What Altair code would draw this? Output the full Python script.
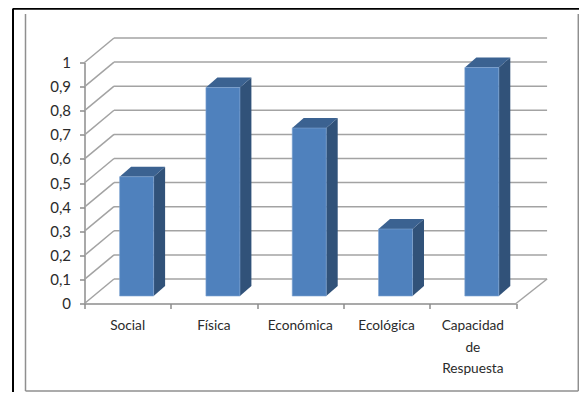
import altair as alt
import pandas as pd

categories = ["Social", "Física", "Económica", "Ecológica", "Capacidad\nde\nRespuesta"]
values = [0.495, 0.865, 0.697, 0.278, 0.948]
ticks = [0, 0.1, 0.2, 0.3, 0.4, 0.5, 0.6, 0.7, 0.8, 0.9, 1]
slots = [0, 1, 2, 3, 4, 5]

DEPTH_X, DEPTH_Y = 0.342, 0.1017
BACK_END = 5.36
BASE_X, BASE_Y = 0.104, 0.031
BAR_W = 0.394
SIDE_X, SIDE_Y = 0.133, 0.0415

GRID = "#a3a3a3"
FRONT, TOP, SIDE = "#4f81bd", "#3b6291", "#315279"
FONT = "Lato"
TEXT = "#2b2b2b"

xs = alt.Scale(domain=[0, 5], nice=False, zero=False)
ys = alt.Scale(domain=[0, 1], nice=False, zero=False)
x_axis = alt.Axis(values=slots, labels=False, title=None, grid=False, tickSize=5, tickWidth=1.5,
                  tickColor="#8c8c8c", domainColor="#8c8c8c", domainWidth=1.5)
y_axis = alt.Axis(values=ticks, format="~g", labelExpr="replace(datum.label,'.',',')", title=None,
                  grid=False, tickSize=5, tickWidth=1.5, tickColor="#8c8c8c", domainColor="#8c8c8c",
                  domainWidth=1.5, labelFont=FONT, labelFontSize=15, labelColor=TEXT, labelPadding=9)


def X(field="x"):
    return alt.X(f"{field}:Q", scale=xs, axis=x_axis)


def Y(field="y"):
    return alt.Y(f"{field}:Q", scale=ys, stack=None, axis=y_axis)


# Wall and floor lines
lines = []
for t in ticks:
    lines += [{"id": f"d{t}", "x": 0, "y": t}, {"id": f"d{t}", "x": DEPTH_X, "y": t + DEPTH_Y}]
    lines += [{"id": f"b{t}", "x": DEPTH_X, "y": t + DEPTH_Y}, {"id": f"b{t}", "x": BACK_END, "y": t + DEPTH_Y}]
lines += [{"id": "r", "x": 5, "y": 0}, {"id": "r", "x": BACK_END, "y": DEPTH_Y}]
lines_df = pd.DataFrame(lines)

axes = (
    alt.Chart(lines_df)
    .mark_line(color=GRID, strokeWidth=1.5)
    .encode(x=X(), y=Y(), detail="id:N")
)

front, side, top = [], [], []
for i, (c, v) in enumerate(zip(categories, values)):
    x0 = i + 0.5 - BAR_W / 2 + BASE_X
    x1 = x0 + BAR_W
    y0 = BASE_Y
    y1 = BASE_Y + v
    front.append({"id": c, "x": x0, "x2": x1, "y": y0, "y2": y1})
    side += [
        {"id": c, "x": x1, "y": y0, "y2": y1},
        {"id": c, "x": x1 + SIDE_X, "y": y0 + SIDE_Y, "y2": y1 + SIDE_Y},
    ]
    top += [
        {"id": c, "x": x0, "x2": x1, "y": y1},
        {"id": c, "x": x0 + SIDE_X, "x2": x1 + SIDE_X, "y": y1 + SIDE_Y},
    ]

front_l = alt.Chart(pd.DataFrame(front)).mark_rect(color=FRONT, stroke="#7fa4d2", strokeWidth=0.6).encode(
    x=X(), x2="x2:Q", y=Y(), y2="y2:Q"
)
side_l = alt.Chart(pd.DataFrame(side)).mark_area(color=SIDE).encode(
    x=X(), y=Y(), y2="y2:Q", detail="id:N"
)
top_l = alt.Chart(pd.DataFrame(top)).mark_area(color=TOP, orient="horizontal").encode(
    y=Y(), x=X(), x2="x2:Q", detail="id:N"
)

labels = pd.DataFrame({"x": [i + 0.5 for i in range(5)], "label": categories})
labels_l = alt.Chart(labels).mark_text(
    font=FONT, fontSize=13.7, color=TEXT, baseline="top", align="center", lineBreak="\n", lineHeight=21.5
).encode(x=X(), y=alt.value(256.5), text="label:N")

# Frames (pixels relative to the plot area)
one = pd.DataFrame({"a": [0]})


def frame(color, width, **enc):
    return alt.Chart(one).mark_rule(color=color, strokeWidth=width).encode(**{k: alt.value(v) for k, v in enc.items()})


frames = [
    frame("#000000", 2, x=-71.5, y=-54, y2=330),
    frame("#000000", 2, x=-71.5, x2=495, y=-53.8),
    frame("#8f8f8f", 1.5, x=-59, y=-48.5, y2=328.5),
    frame("#8f8f8f", 1.5, x=493.8, y=-48.5, y2=328.5),
    frame("#8f8f8f", 1.5, x=-59, x2=493.8, y=328.5),
]

chart = (
    alt.layer(axes, side_l, top_l, front_l, labels_l, *frames)
    .properties(
        width=431.5,
        height=241,
        padding={"left": 76.5, "top": 54.5, "right": 63, "bottom": 88.5},
        autosize=alt.AutoSizeParams(type="none"),
        background="white",
    )
    .configure_view(stroke=None)
)
chart.save("out.html", embed_options={"renderer": "svg", "actions": False})
